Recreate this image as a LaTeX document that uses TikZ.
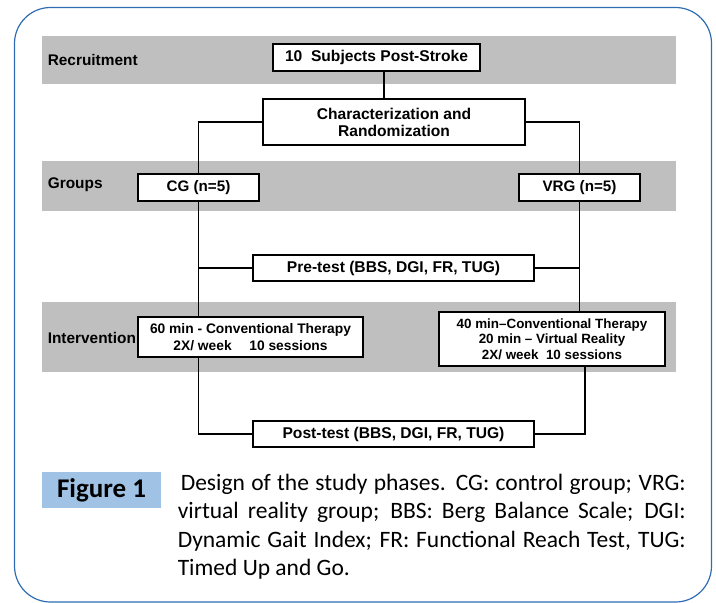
\documentclass[tikz,border=0pt]{standalone}
\usepackage{fontspec}
\usepackage{xcolor}
\setmainfont{Liberation Sans}
\newfontfamily\capfont{Carlito}
\definecolor{bandgray}{RGB}{191,191,191}
\definecolor{frameblue}{RGB}{46,109,180}
\definecolor{figblue}{RGB}{160,194,228}
\tikzset{
  phasebox/.style={draw, line width=1.6pt, fill=white, inner sep=0pt, align=center,
    font=\fontsize{15.6}{17}\selectfont\bfseries},
  phaselabel/.style={anchor=west, inner sep=0pt, font=\fontsize{15.4}{17}\selectfont\bfseries},
  capline/.style={anchor=base west, inner sep=0pt, font=\capfont\fontsize{23.5}{28}\selectfont}
}

\begin{document}
\begin{tikzpicture}[x=1pt, y=-1pt, line width=1.6pt]
    \useasboundingbox (0,0) rectangle (716,603);
    % rahmen
    \draw[frameblue, line width=1.2pt, rounded corners=36pt] (14.5,7.5) rectangle (711.5,602);

    % graue baender
    \fill[bandgray] (42,36) rectangle (676,84);
    \fill[bandgray] (42,161) rectangle (676,211);
    \fill[bandgray] (42,302) rectangle (676,372);

    \node[phaselabel] (lrec) at (47,60) {Recruitment};
    \node[phaselabel] (lgrp) at (47,185) {Groups};
    \node[phaselabel] (lint) at (47,338) {Intervention};

    % boxen
    \node[phasebox, minimum width=207, minimum height=27] (subj) at (376.5,57.5) {10\ \ Subjects Post-Stroke};
    \node[phasebox, minimum width=262, minimum height=46] (charac) at (394,122) {Characterization and\\Randomization};
    \node[phasebox, minimum width=121, minimum height=27, font=\fontsize{15.2}{17}\selectfont\bfseries]
        (cg) at (198.5,187.5) {CG (n=5)};
    \node[phasebox, minimum width=121, minimum height=27, font=\fontsize{15.2}{17}\selectfont\bfseries]
        (vrg) at (579.5,187.5) {VRG (n=5)};
    \node[phasebox, minimum width=281, minimum height=26] (pre) at (393.5,268) {Pre-test (BBS, DGI, FR, TUG)};
    \node[phasebox, minimum width=225, minimum height=40, font=\fontsize{13.8}{17}\selectfont\bfseries]
        (cgint) at (250.5,337) {60 min - Conventional Therapy\\2X/ week\quad\ 10 sessions};
    \node[phasebox, minimum width=226, minimum height=54, font=\fontsize{13.4}{15.5}\selectfont\bfseries]
        (vrgint) at (552,339) {40 min--Conventional Therapy\\20 min -- Virtual Reality\\2X/ week\ \ 10 sessions};
    \node[phasebox, minimum width=281, minimum height=26] (post) at (393.5,434) {Post-test (BBS, DGI, FR, TUG)};

    % linien
    \draw ([xshift=7.5]subj.south) -- ([xshift=7.5]subj.south |- charac.north);
    \draw (charac.west) -| (cg.north);
    \draw (charac.east) -| (vrg.north);
    \draw (cg.south) -- (cg.south |- cgint.north);
    \draw (vrg.south) -- (vrg.south |- vrgint.north);
    \draw (pre.west) -- (pre.west -| cg.south);
    \draw (pre.east) -- (pre.east -| vrg.south);
    \draw (cg.south |- cgint.south) |- (post.west);
    \draw ([xshift=33]vrgint.south) |- (post.east);

    % bildunterschrift
    \node[fill=figblue, minimum width=119, minimum height=36, inner sep=0pt,
        font=\capfont\fontsize{27}{30}\selectfont\bfseries] (fig) at (101.5,490) {Figure 1};
    \node[capline] (cap1) at (180,490.5) {\makebox[505pt][s]{Design of the study phases. CG: control group; VRG:}};
    \node[capline] (cap2) at (177,518.8) {\makebox[508pt][s]{virtual reality group; BBS: Berg Balance Scale; DGI:}};
    \node[capline] (cap3) at (177,547.1) {\makebox[508pt][s]{Dynamic Gait Index; FR: Functional Reach Test, TUG:}};
    \node[capline] (cap4) at (177,575.4) {Timed Up and Go.};
\end{tikzpicture}
\end{document}
